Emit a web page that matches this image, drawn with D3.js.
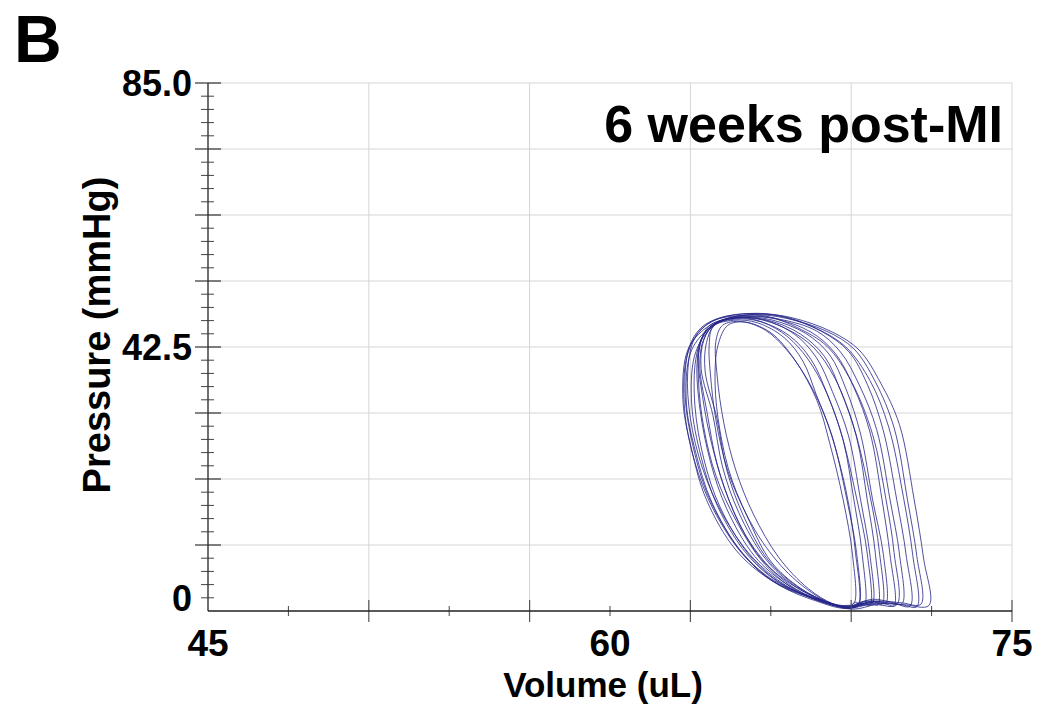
<!DOCTYPE html>
<html><head><meta charset="utf-8">
<script src="https://cdn.jsdelivr.net/npm/d3@7"></script>
<style>
html,body{margin:0;padding:0;background:#fff;}
svg{display:block;}
text{font-family:"Liberation Sans",Arial,sans-serif;font-weight:bold;fill:#000;}
</style></head>
<body><svg id="chart" width="1040" height="708"></svg>
<script>
// ---- data ----
const panelLabel = "B";
const chartTitle = "6 weeks post-MI";
const xTitle = "Volume (uL)";
const yTitle = "Pressure (mmHg)";
const xDomain = [45, 75];
const yDomain = [0, 85];
const xTickLabels = [45, 60, 75];
const yTickLabels = ["85.0", "42.5", "0"];
const yTickLabelValues = [85, 42.5, 0];
const xMajorTicks = [51, 57, 63, 69, 75];
const xMinorTicks = [48, 54, 60, 66, 72];
const yMajorTicks = [10.625, 21.25, 31.875, 42.5, 53.125, 63.75, 74.375, 85];
const yMinorStep = 2.125;

// pressure-volume loops: [volume (uL), pressure (mmHg)]
const loops = [
 [[71.9,0.9],[71.7,8.5],[71.35,17.9],[70.8,30],[70.1,36.7],[69.3,42.0],[68.3,44.9],[66.8,47.2],[65.6,47.8],[64.3,47.0],[63.5,45.3],[62.9,42.0],[62.72,34.0],[63.05,25.9],[63.6,17.9],[64.7,9.8],[66.0,5.0],[67.5,2.2],[68.8,0.8],[70.1,1.2],[71.0,1.0]],
 [[71.6,1.1],[71.45,8.8],[71.1,17.9],[70.6,29.5],[69.9,36.9],[69.1,42.2],[68.1,45.0],[66.6,47.1],[65.4,47.7],[64.2,46.9],[63.55,45.0],[63.0,41.5],[62.85,33.5],[63.2,25.5],[63.8,17.5],[64.9,9.5],[66.1,4.7],[67.6,2.0],[68.9,0.6],[70.0,1.6],[70.9,1.3]],
 [[71.2,0.8],[71.05,9.0],[70.7,17.9],[70.2,29.0],[69.6,36.5],[68.9,41.8],[67.9,45.0],[66.5,47.3],[65.3,47.9],[64.1,47.2],[63.4,45.6],[62.95,42.4],[62.8,35.0],[63.1,26.5],[63.7,18.2],[64.8,10.1],[66.0,5.2],[67.4,2.4],[68.7,0.7],[69.8,1.5],[70.6,1.2]],
 [[70.9,1.2],[70.8,9.2],[70.45,17.9],[69.95,29.2],[69.3,36.4],[68.6,41.7],[67.7,45.1],[66.3,47.0],[65.2,47.5],[64.2,46.8],[63.6,44.8],[63.15,41.0],[63.05,33.2],[63.4,24.8],[64.0,17.0],[65.1,9.2],[66.3,4.6],[67.7,1.9],[68.8,0.7],[69.8,1.9],[70.5,1.4]],
 [[70.6,0.9],[70.45,9.0],[70.15,17.9],[69.7,28.8],[69.1,36.0],[68.4,41.5],[67.5,44.9],[66.2,47.0],[65.1,47.4],[64.1,46.6],[63.5,44.5],[63.2,40.5],[63.17,33.0],[63.5,24.5],[64.1,16.8],[65.2,9.0],[66.4,4.4],[67.8,1.8],[68.9,0.5],[69.7,1.4],[70.3,1.1]],
 [[70.3,1.3],[70.2,9.1],[69.8,17.9],[69.35,28.5],[68.8,35.8],[68.2,41.2],[67.3,44.7],[66.0,46.9],[65.0,47.3],[64.0,46.5],[63.45,44.2],[63.25,40.0],[63.36,32.4],[63.75,24.0],[64.35,16.5],[65.4,8.8],[66.6,4.3],[67.9,1.7],[68.9,0.6],[69.6,1.6],[70.1,1.5]],
 [[70.0,1.0],[69.9,9.3],[69.6,17.9],[69.2,28.0],[68.6,35.5],[68.0,41.0],[67.1,44.6],[65.9,46.8],[64.9,47.2],[63.95,46.3],[63.5,43.8],[63.35,39.5],[63.62,32.0],[64.0,23.6],[64.6,16.2],[65.6,8.6],[66.8,4.2],[68.0,1.6],[68.9,0.4],[69.5,1.2],[69.8,1.1]],
 [[69.8,1.4],[69.7,9.0],[69.35,17.9],[68.9,28.2],[68.3,35.3],[67.7,40.8],[66.9,44.5],[65.8,46.8],[64.8,47.2],[63.9,46.2],[63.5,43.6],[63.4,39.0],[63.84,31.5],[64.2,23.2],[64.8,15.9],[65.8,8.4],[66.9,4.0],[68.1,1.5],[68.95,0.5],[69.4,1.5],[69.6,1.6]],
 [[69.5,1.1],[69.4,9.5],[69.1,17.9],[68.7,27.5],[68.1,35.0],[67.5,40.5],[66.7,44.3],[65.6,46.6],[64.7,47.0],[63.9,46.0],[63.6,43.2],[63.55,38.6],[63.99,31.0],[64.35,22.8],[64.95,15.6],[65.9,8.2],[67.0,3.9],[68.1,1.4],[68.9,0.6],[69.3,1.3]],
 [[69.3,1.3],[69.2,9.4],[68.84,17.9],[68.3,28.0],[67.7,34.8],[67.2,40.2],[66.5,44.0],[65.5,46.4],[64.6,46.8],[63.85,45.8],[63.7,42.8],[63.75,38.0],[63.95,30.8],[64.4,22.5],[65.1,15.4],[66.0,8.0],[67.1,3.7],[68.2,1.3],[68.9,0.7],[69.15,1.4]],
 [[69.1,1.2],[69.05,9.0],[68.7,17.9],[68.2,27.0],[67.72,33.9],[66.9,40.4],[66.0,44.8],[65.04,46.5],[64.4,46.0],[64.03,42.8],[63.92,36.7],[64.1,29.1],[64.55,21.1],[65.41,13.0],[66.53,6.6],[67.65,2.6],[68.4,1.0],[68.8,0.9]],
 [[70.7,1.0],[70.6,9.4],[70.3,17.9],[69.8,28.4],[69.0,37.0],[68.1,42.6],[67.0,45.6],[65.9,47.4],[64.9,47.6],[63.8,46.6],[63.15,43.8],[62.9,38.5],[63.0,31.0],[63.45,23.0],[64.2,15.6],[65.3,8.7],[66.6,4.0],[68.0,1.3],[69.1,0.3],[69.9,1.0]],
 [[69.7,0.9],[69.6,9.2],[69.2,18.2],[68.6,29.0],[67.9,36.8],[67.2,41.6],[66.4,44.9],[65.4,46.9],[64.5,47.1],[63.7,45.9],[63.35,42.6],[63.3,37.2],[63.5,29.5],[63.95,21.8],[64.7,14.6],[65.7,7.9],[66.9,3.4],[68.2,1.1],[69.0,0.5],[69.45,1.2]],
 [[71.45,0.7],[71.3,8.9],[70.95,18.3],[70.4,29.6],[69.7,37.1],[68.8,42.5],[67.7,45.5],[66.4,47.5],[65.2,47.9],[64.0,47.0],[63.3,44.9],[62.85,40.6],[62.78,32.6],[63.15,24.2],[63.85,16.4],[65.0,8.9],[66.3,4.2],[67.7,1.6],[68.8,0.4],[70.0,1.3],[70.9,1.0]],
 [[70.15,1.1],[70.05,9.6],[69.7,18.6],[69.1,29.6],[68.4,37.4],[67.6,42.4],[66.6,45.4],[65.4,47.1],[64.4,47.0],[63.6,45.2],[63.3,41.4],[63.45,34.6],[63.8,26.8],[64.3,19.5],[65.0,12.6],[66.1,6.4],[67.3,2.6],[68.4,0.9],[69.2,0.8],[69.8,1.6]],
 [[69.25,0.9],[69.15,9.8],[68.8,19.5],[68.1,30.4],[67.4,37.0],[66.6,42.0],[65.8,45.2],[64.9,46.6],[64.2,46.0],[63.95,43.4],[64.0,37.8],[64.25,30.2],[64.7,22.6],[65.35,15.6],[66.3,8.6],[67.4,3.6],[68.3,1.2],[68.9,0.6]]
];

// ---- layout ----
const svg = d3.select("#chart");
const x = d3.scaleLinear().domain(xDomain).range([208, 1012]);
const y = d3.scaleLinear().domain(yDomain).range([611, 83]);
const gridColor = "#d6d6d6";
const tickColor = "#444";

// gridlines
svg.append("g").selectAll("line").data(yMajorTicks).join("line")
  .attr("x1", x(xDomain[0])).attr("x2", x(xDomain[1]))
  .attr("y1", d => y(d)).attr("y2", d => y(d))
  .attr("stroke", gridColor).attr("stroke-width", 1);
svg.append("g").selectAll("line").data(xMajorTicks).join("line")
  .attr("x1", d => x(d)).attr("x2", d => x(d))
  .attr("y1", y(yDomain[0])).attr("y2", y(yDomain[1]))
  .attr("stroke", gridColor).attr("stroke-width", 1);

// loops
const line = d3.line().x(d => x(d[0])).y(d => y(d[1])).curve(d3.curveCatmullRomClosed.alpha(0.5));
svg.append("g").selectAll("path").data(loops).join("path")
  .attr("d", line).attr("fill", "none")
  .attr("stroke", "#26268a").attr("stroke-width", 0.9).attr("stroke-opacity", 0.9);

// y axis
const yMinor = d3.range(yDomain[0] + yMinorStep, yDomain[1], yMinorStep).filter(v => !yMajorTicks.some(m => Math.abs(m - v) < 1e-6));
const x0 = x(xDomain[0]);
svg.append("g").selectAll("line").data(yMinor).join("line")
  .attr("x1", x0 - 7).attr("x2", x0 + 6)
  .attr("y1", d => y(d)).attr("y2", d => y(d))
  .attr("stroke", tickColor).attr("stroke-width", 1);
svg.append("g").selectAll("line").data(yMajorTicks).join("line")
  .attr("x1", x0 - 13).attr("x2", x0 + 13)
  .attr("y1", d => y(d)).attr("y2", d => y(d))
  .attr("stroke", "#333").attr("stroke-width", 1.2);
svg.append("line").attr("x1", x0).attr("x2", x0).attr("y1", y(yDomain[0])).attr("y2", y(yDomain[1]))
  .attr("stroke", "#333").attr("stroke-width", 1.4);

// x axis
const y0 = y(yDomain[0]);
svg.append("g").selectAll("line").data(xMinorTicks).join("line")
  .attr("x1", d => x(d)).attr("x2", d => x(d))
  .attr("y1", y0 - 5).attr("y2", y0 + 5)
  .attr("stroke", tickColor).attr("stroke-width", 1);
svg.append("g").selectAll("line").data(xMajorTicks).join("line")
  .attr("x1", d => x(d)).attr("x2", d => x(d))
  .attr("y1", y0 - 11).attr("y2", y0 + 11)
  .attr("stroke", "#555").attr("stroke-width", 1.2);
svg.append("line").attr("x1", x(xDomain[0])).attr("x2", x(xDomain[1])).attr("y1", y0).attr("y2", y0)
  .attr("stroke", "#222").attr("stroke-width", 1.6);

// tick labels
svg.append("g").selectAll("text").data(yTickLabels).join("text")
  .attr("x", 192)
  .attr("y", (d, i) => y(yTickLabelValues[i]) + (i === 2 ? -13 : 0))
  .attr("dy", "0.36em")
  .attr("text-anchor", "end").attr("font-size", 36)
  .text(d => d);
svg.append("g").selectAll("text").data(xTickLabels).join("text")
  .attr("x", d => x(d)).attr("y", 656)
  .attr("text-anchor", "middle").attr("font-size", 37)
  .text(d => d);

// titles
svg.append("text").attr("x", 14).attr("y", 62).attr("font-size", 66).text(panelLabel);
svg.append("text").attr("x", 1003).attr("y", 142).attr("text-anchor", "end").attr("font-size", 52).text(chartTitle);
svg.append("text").attr("x", 603).attr("y", 697).attr("text-anchor", "middle").attr("font-size", 35)
  .text(xTitle);
svg.append("text").attr("transform", "translate(110,335) rotate(-90)").attr("text-anchor", "middle").attr("font-size", 38)
  .text(yTitle);
</script></body></html>
